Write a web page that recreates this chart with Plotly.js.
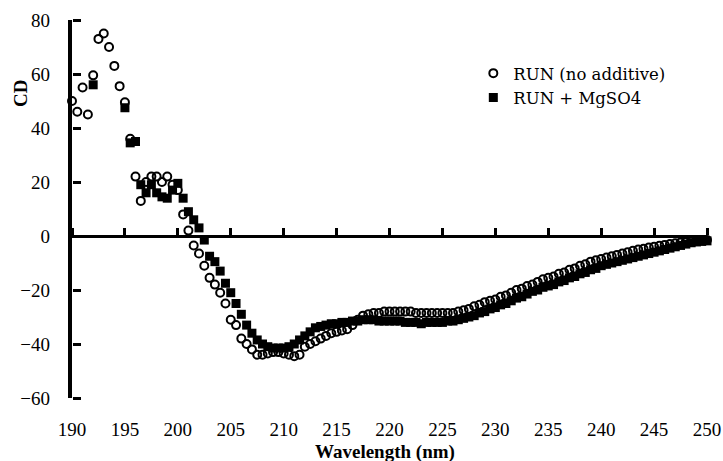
<!DOCTYPE html>
<html>
<head>
<meta charset="utf-8">
<script src="https://cdn.plot.ly/plotly-3.0.1.min.js"></script>
<style>html,body{margin:0;padding:0;background:#fff;}#chart{width:723px;height:461px;}</style>
</head>
<body>
<div id="chart"></div>
<script>
// Wavelength (nm)
const wavelength = [
  190,190.5,191,191.5,192,192.5,193,193.5,194,194.5,
  195,195.5,196,196.5,197,197.5,198,198.5,199,199.5,
  200,200.5,201,201.5,202,202.5,203,203.5,204,204.5,
  205,205.5,206,206.5,207,207.5,208,208.5,209,209.5,
  210,210.5,211,211.5,212,212.5,213,213.5,214,214.5,
  215,215.5,216,216.5,217,217.5,218,218.5,219,219.5,
  220,220.5,221,221.5,222,222.5,223,223.5,224,224.5,
  225,225.5,226,226.5,227,227.5,228,228.5,229,229.5,
  230,230.5,231,231.5,232,232.5,233,233.5,234,234.5,
  235,235.5,236,236.5,237,237.5,238,238.5,239,239.5,
  240,240.5,241,241.5,242,242.5,243,243.5,244,244.5,
  245,245.5,246,246.5,247,247.5,248,248.5,249,249.5,
  250
];

// RUN (no additive) — open circles
const cdNoAdditive = [
  50,46,55,45,59.5,73,75,70,63,55.5,
  49.5,36,22,13,20,22,22,20,22,19,
  17,8,2,-3.5,-6.5,-11,-15.5,-18,-21,-25,
  -31,-33,-38,-40,-42,-44,-44,-43.5,-43,-43,
  -43.5,-44,-44.5,-44,-41,-40,-39,-38,-37,-36,
  -35.5,-35,-34.5,-33,-31,-29.5,-29,-28.5,-28.5,-28,
  -28,-28,-28,-28,-28,-28.5,-28.5,-28.5,-28.5,-28.5,
  -28.5,-28.5,-28.5,-28,-27.5,-27,-26,-25.5,-24.5,-24,
  -23.5,-22.5,-22,-21,-20,-19.5,-18.5,-18,-17,-16,
  -15.5,-15,-14,-13.5,-12.5,-12,-11,-10.5,-9.5,-9,
  -8.5,-8,-7.5,-7,-6.5,-6,-5.5,-5,-4.7,-4.3,
  -4,-3.6,-3.3,-3,-2.7,-2.4,-2.2,-2,-1.8,-1.6,
  -1.5
];

// RUN + MgSO4 — filled squares
const cdMgSO4 = [
  null,null,null,null,56,null,null,null,null,null,
  47.5,34.5,35,19,16,19,16,14.5,14,17,
  19.5,14,9,6,3,-1.5,-7.5,-9.5,-13,-17.5,
  -21,-25,-29,-33,-36,-38.5,-40,-41,-41.5,-41.5,
  -41.5,-41,-40,-38.5,-37,-35.5,-34,-33.5,-33,-32.5,
  -32.5,-32,-32,-31.5,-31.5,-31,-31,-31,-31.5,-31.5,
  -31.5,-31.5,-31.5,-32,-32,-32,-32.5,-32,-32,-32,
  -32,-31.5,-31.5,-31,-30.5,-30,-29.5,-28.5,-28,-27,
  -26.5,-25.5,-25,-24,-23,-22.5,-21.5,-20.5,-20,-19,
  -18.5,-18,-17,-16.5,-15.5,-15,-14,-13.5,-12.5,-12,
  -11,-10.5,-10,-9.5,-9,-8.5,-8,-7.5,-7,-6.5,
  -6,-5.5,-5,-4.5,-4,-3.5,-3,-2.5,-2.2,-2,
  -1.8
];

const seriesNames = ['RUN (no additive)', 'RUN + MgSO4'];
const xTitle = 'Wavelength (nm)';
const yTitle = 'CD';

const FONT = 'Liberation Serif, Times New Roman, serif';
const LEGEND_FONT = 'DejaVu Serif, Liberation Serif, serif';
const xRange = [190, 250];
const yRange = [-60, 80];

const traces = [
  {
    x: wavelength, y: cdNoAdditive, name: seriesNames[0],
    type: 'scatter', mode: 'markers', xaxis: 'x', yaxis: 'y',
    legendrank: 1,
    marker: {symbol: 'circle-open', size: 8, color: '#000', line: {width: 2, color: '#000'}},
    cliponaxis: false
  },
  {
    x: wavelength, y: cdMgSO4, name: seriesNames[1],
    type: 'scatter', mode: 'markers', xaxis: 'x2', yaxis: 'y2',
    legendrank: 2,
    marker: {symbol: 'square', size: 9, color: '#000'},
    cliponaxis: false
  }
];

const layout = {
  width: 723, height: 461,
  margin: {l: 72, r: 16, t: 20, b: 63},
  showlegend: true,
  legend: {
    x: 0.632, y: 0.905, xanchor: 'left', yanchor: 'top',
    font: {family: LEGEND_FONT, size: 16.5, color: '#000'},
    bgcolor: 'rgba(0,0,0,0)', borderwidth: 0,
    itemclick: false
  },
  // bottom axis: tick labels only
  xaxis: {
    range: xRange, dtick: 5,
    showline: false, showgrid: false, zeroline: false,
    ticks: 'outside', ticklen: 14, tickcolor: 'rgba(255,255,255,0)',
    tickfont: {family: FONT, size: 19, color: '#000'}
  },
  // axis line crossing at CD = 0, ticks pointing up
  xaxis2: {
    range: xRange, dtick: 5,
    overlaying: 'x', anchor: 'free',
    position: (0 - yRange[0]) / (yRange[1] - yRange[0]),
    side: 'top',
    showline: true, linewidth: 3, linecolor: 'black',
    ticks: 'outside', ticklen: 7, tickwidth: 3, tickcolor: 'black',
    showticklabels: false, showgrid: false, zeroline: false
  },
  // left axis: line and labels
  yaxis: {
    range: yRange, dtick: 20,
    showline: true, linewidth: 4, linecolor: 'black',
    ticks: '', showgrid: false, zeroline: false,
    ticksuffix: '\u2002\u00a0',
    tickfont: {family: FONT, size: 19, color: '#000'}
  },
  // inward-pointing tick marks on the left axis (including the end caps)
  yaxis2: {
    range: yRange, dtick: 20,
    overlaying: 'y', anchor: 'free', position: 0, side: 'right',
    showline: false, ticks: 'outside', ticklen: 8, tickwidth: 3, tickcolor: 'black',
    showticklabels: false, showgrid: false, zeroline: false
  },
  annotations: [
    {text: '<b>' + yTitle + '</b>', xref: 'paper', yref: 'paper',
     x: -0.0804, y: 0.807, xanchor: 'center', yanchor: 'middle',
     textangle: -90, showarrow: false, font: {family: FONT, size: 19, color: '#000'}},
    {text: '<b>' + xTitle + '</b>', xref: 'paper', yref: 'paper',
     x: 0.493, y: -0.143, xanchor: 'center', yanchor: 'middle',
     showarrow: false, font: {family: FONT, size: 19, color: '#000'}}
  ]
};

Plotly.newPlot('chart', traces, layout, {displayModeBar: false, staticPlot: true});
</script>
</body>
</html>
